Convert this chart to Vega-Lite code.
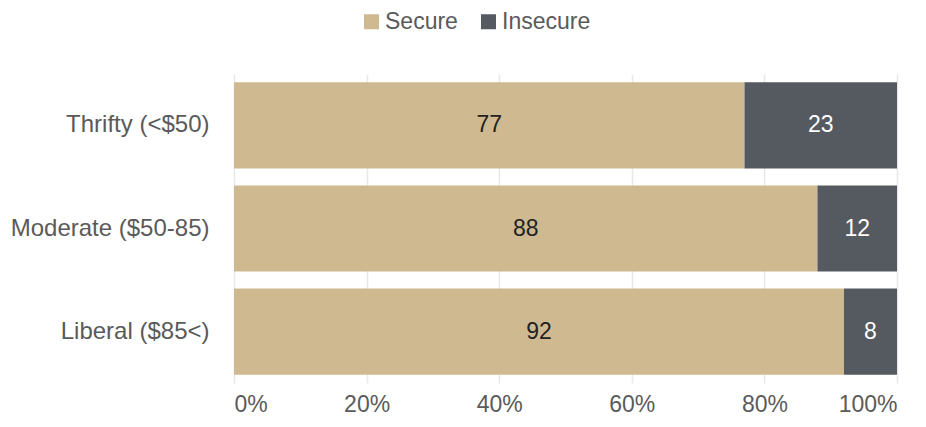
{
  "$schema": "https://vega.github.io/schema/vega-lite/v6.json",
  "width": 663,
  "height": 309,
  "autosize": {"type": "none"},
  "padding": {"left": 234, "top": 74, "right": 29, "bottom": 44},
  "background": "white",
  "config": {
    "font": "Liberation Sans",
    "view": {"stroke": null},
    "axis": {"labelFont": "Liberation Sans", "labelColor": "#5a5a5a", "labelFontSize": 23, "labelLimit": 400},
    "legend": {"labelFont": "Liberation Sans", "labelColor": "#5a5a5a", "labelFontSize": 23, "labelLimit": 400}
  },
  "data": {
    "values": [
      {"group": "Thrifty (<$50)", "status": "Secure", "value": 77},
      {"group": "Thrifty (<$50)", "status": "Insecure", "value": 23},
      {"group": "Moderate ($50-85)", "status": "Secure", "value": 88},
      {"group": "Moderate ($50-85)", "status": "Insecure", "value": 12},
      {"group": "Liberal ($85<)", "status": "Secure", "value": 92},
      {"group": "Liberal ($85<)", "status": "Insecure", "value": 8}
    ]
  },
  "transform": [
    {"stack": "value", "groupby": ["group"], "sort": [{"field": "status", "order": "descending"}], "as": ["x0", "x1"]},
    {"calculate": "(datum.x0 + datum.x1) / 2", "as": "mid"}
  ],
  "encoding": {
    "y": {
      "field": "group",
      "type": "nominal",
      "sort": ["Thrifty (<$50)", "Moderate ($50-85)", "Liberal ($85<)"],
      "scale": {"paddingInner": 0.165, "paddingOuter": 0.08},
      "axis": {"title": null, "domain": false, "ticks": false, "labelPadding": 25, "labelFontSize": 24}
    }
  },
  "layer": [
    {
      "mark": {"type": "bar"},
      "encoding": {
        "x": {
          "field": "x0",
          "type": "quantitative",
          "scale": {"domain": [0, 100], "nice": false},
          "axis": {
            "title": null,
            "values": [0, 20, 40, 60, 80, 100],
            "labelExpr": "datum.value + '%'",
            "grid": true,
            "gridColor": "#e8e8e8",
            "gridWidth": 1.5,
            "domain": false,
            "ticks": false,
            "labelPadding": 10
          }
        },
        "x2": {"field": "x1"},
        "color": {
          "field": "status",
          "type": "nominal",
          "scale": {"domain": ["Secure", "Insecure"], "range": ["#CFB991", "#555960"]},
          "legend": {
            "title": null,
            "orient": "none",
            "direction": "horizontal",
            "legendX": 126,
            "legendY": -64,
            "symbolType": "square",
            "symbolSize": 225,
            "symbolStrokeWidth": 0,
            "symbolOpacity": 1,
            "columnPadding": 19,
            "labelOffset": 2
          }
        }
      }
    },
    {
      "mark": {"type": "text", "fontSize": 23, "font": "Liberation Sans", "baseline": "middle", "align": "center"},
      "encoding": {
        "x": {"field": "mid", "type": "quantitative"},
        "text": {"field": "value", "type": "quantitative"},
        "color": {
          "condition": {"test": "datum.status === 'Insecure'", "value": "#ffffff"},
          "value": "#222222"
        }
      }
    }
  ]
}
